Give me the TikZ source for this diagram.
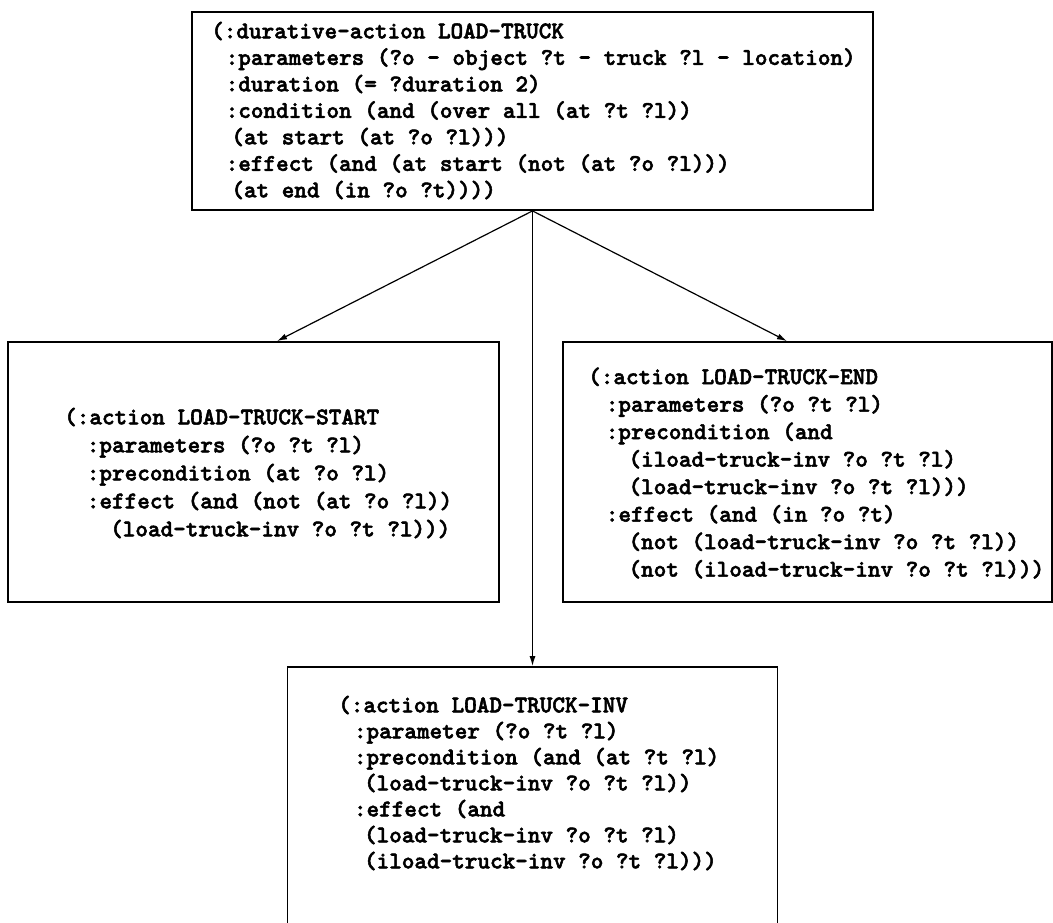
\documentclass[tikz,border=0pt]{standalone}
\usepackage{fontspec}
\usetikzlibrary{arrows.meta}
% heavy typewriter face for the PDDL listings
\newfontfamily\pddlfont{lmmonolt10-bold.otf}[FakeBold=2.2]
% width of one typewriter character at 24pt
\newlength{\cw}
\setlength{\cw}{12.6pt}
\newcommand{\indentby}[1]{\hspace*{#1\cw}}
\begin{document}
\begin{tikzpicture}[x=1pt,y=-1pt,
  box/.style={draw, line width=1.8pt, rectangle, inner sep=0pt},
  pddl/.style={anchor=west, inner sep=0pt, align=left,
    font=\pddlfont\fontsize{24}{#1}\selectfont},
  link/.style={line width=1.2pt, -{Latex[length=10pt,width=6pt]}}]
\clip (0,0) rectangle (1053,922);

% boxes
\node[box, minimum width=681pt, minimum height=198pt] (top)    at (532.5,111) {};
\node[box, minimum width=491pt, minimum height=260pt] (left)   at (253.5,472) {};
\node[box, minimum width=489pt, minimum height=260pt] (right)  at (807.5,472) {};
\node[box, minimum width=490pt, minimum height=278pt] (bottom) at (532.5,806) {};

% durative action
\node[pddl=26.5] (toptxt) at (211,110.5) {%
(:durative-action LOAD-TRUCK\\
\indentby{1.15}:parameters (?o - object ?t - truck ?l - location)\\
\indentby{1.15}:duration (= ?duration 2)\\
\indentby{1.15}:condition (and (over all (at ?t ?l))\\
\indentby{1.6}(at start (at ?o ?l)))\\
\indentby{1.15}:effect (and (at start (not (at ?o ?l)))\\
\indentby{1.6}(at end (in ?o ?t))))};

% start action
\node[pddl=28] (lefttxt) at (64,473) {%
(:action LOAD-TRUCK-START\\
\indentby{1.8}:parameters (?o ?t ?l)\\
\indentby{1.8}:precondition (at ?o ?l)\\
\indentby{1.8}:effect (and (not (at ?o ?l))\\
\indentby{3.65}(load-truck-inv ?o ?t ?l)))};

% end action
\node[pddl=27.5] (righttxt) at (588,473) {%
(:action LOAD-TRUCK-END\\
\indentby{1.4}:parameters (?o ?t ?l)\\
\indentby{1.4}:precondition (and\\
\indentby{3.2}(iload-truck-inv ?o ?t ?l)\\
\indentby{3.2}(load-truck-inv ?o ?t ?l)))\\
\indentby{1.4}:effect (and (in ?o ?t)\\
\indentby{3.2}(not (load-truck-inv ?o ?t ?l))\\
\indentby{3.2}(not (iload-truck-inv ?o ?t ?l)))};

% invariant action
\node[pddl=26] (bottxt) at (338,783) {%
(:action LOAD-TRUCK-INV\\
\indentby{1.25}:parameter (?o ?t ?l)\\
\indentby{1.25}:precondition (and (at ?t ?l)\\
\indentby{2.05}(load-truck-inv ?o ?t ?l))\\
\indentby{1.25}:effect (and\\
\indentby{2.05}(load-truck-inv ?o ?t ?l)\\
\indentby{2.05}(iload-truck-inv ?o ?t ?l)))};

% connectors
\draw[link] (top.south) -- ([xshift=23.5pt]left.north);
\draw[link] (top.south) -- ([xshift=-20.5pt]right.north);
\draw[link] (top.south) -- (top.south |- bottom.north);
\end{tikzpicture}
\end{document}
